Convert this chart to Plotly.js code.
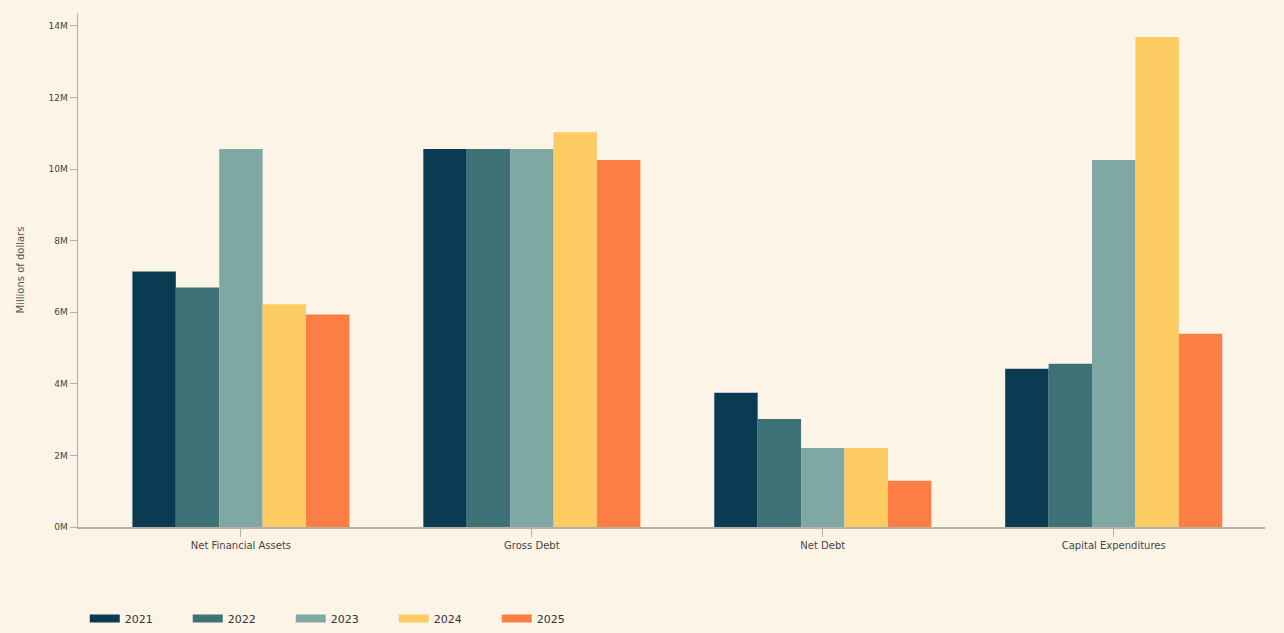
<!DOCTYPE html>
<html><head><meta charset="utf-8">
<script src="https://cdn.plot.ly/plotly-3.0.1.min.js"></script>
<style>html,body{margin:0;padding:0;background:#FDF4E8;}#chart{width:1284px;height:633px;}</style>
</head><body><div id="chart"></div>
<script>
const categories = ["Net Financial Assets", "Gross Debt", "Net Debt", "Capital Expenditures"];
const years = ["2021", "2022", "2023", "2024", "2025"];
const v2021 = [7.14, 10.56, 3.75, 4.42];
const v2022 = [6.69, 10.56, 3.02, 4.56];
const v2023 = [10.56, 10.56, 2.21, 10.25];
const v2024 = [6.22, 11.03, 2.21, 13.69];
const v2025 = [5.94, 10.25, 1.29, 5.40];
const yTicks = [0, 2, 4, 6, 8, 10, 12, 14];
const yTickText = ["0M", "2M", "4M", "6M", "8M", "10M", "12M", "14M"];

const series = [v2021, v2022, v2023, v2024, v2025];
const colors = ["#0B3B52", "#3F7276", "#7FA8A4", "#FCCB62", "#FC7E44"];

const traces = [];
series.forEach((vals, i) => {
  traces.push({type: "bar", x: categories, y: vals, name: years[i],
    marker: {color: colors[i], line: {width: 0}}, showlegend: false, hoverinfo: "x+y+name"});
});
series.forEach((vals, i) => {
  traces.push({type: "scatter", mode: "lines", x: [null], y: [null], name: years[i],
    line: {color: colors[i], width: 8}, showlegend: true, hoverinfo: "skip"});
});

const layout = {
  width: 1284, height: 633,
  paper_bgcolor: "#FDF4E8", plot_bgcolor: "#FDF4E8",
  font: {family: "DejaVu Sans, sans-serif", size: 10, color: "#444"},
  margin: {l: 78, r: 19, t: 13, b: 106},
  barmode: "group", bargap: 0.254, bargroupgap: 0,
  xaxis: {range: [-0.56, 3.52], showgrid: false, zeroline: false, showline: true,
    linecolor: "#B5B0A8", linewidth: 1.5, ticks: "outside", ticklen: 8, tickcolor: "#B5B0A8",
    tickfont: {size: 10, color: "#444"}, fixedrange: true},
  yaxis: {range: [0, 14.36], showgrid: false, zeroline: false, showline: true,
    linecolor: "#B5B0A8", linewidth: 1.5, ticks: "outside", ticklen: 7, tickcolor: "#B5B0A8",
    tickvals: yTicks, ticktext: yTickText, tickfont: {size: 9, color: "#444"},
    title: {text: "Millions of dollars", font: {size: 10, color: "#555"}, standoff: 22}},
  legend: {orientation: "h", xref: "container", yref: "container", x: 0.066, xanchor: "left",
    y: 0.0, yanchor: "bottom",
    font: {size: 11, color: "#333"}, itemwidth: 30, entrywidth: 58, entrywidthmode: "pixels",
    tracegroupgap: 0, bgcolor: "rgba(0,0,0,0)"},
  showlegend: true
};
Plotly.newPlot("chart", traces, layout, {displayModeBar: false, staticPlot: true});
</script></body></html>
